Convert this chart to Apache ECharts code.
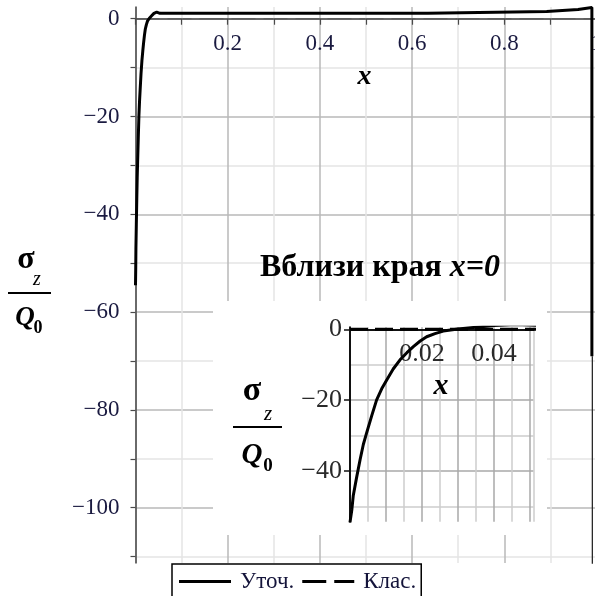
<!DOCTYPE html>
<html>
<head>
<meta charset="utf-8">
<script src="https://cdn.jsdelivr.net/npm/echarts@6/dist/echarts.min.js"></script>
<style>
  html, body { margin: 0; padding: 0; background: #fff; }
  #chart { width: 595px; height: 596px; }
</style>
</head>
<body>
<div id="chart"></div>
<script>
// Refined solution σz/Q0 along x (shared by the full view and the zoom near x = 0)
const refinedX = [0, 0.0005, 0.0009, 0.0018, 0.0028, 0.0037, 0.0046, 0.006, 0.0074, 0.0088,
  0.0102, 0.012, 0.0139, 0.0158, 0.0176, 0.0195, 0.0213, 0.0236, 0.0259, 0.03,
  0.035, 0.04, 0.046, 0.053, 0.2, 0.4, 0.634, 0.634, 0.892, 0.892, 0.96, 0.96, 0.99, 0.99];
const refinedY = [-54.5, -51, -47, -42, -36.8, -32.5, -29.3, -24.5, -19.9, -16.8,
  -14.3, -11.2, -8.6, -6.6, -4.9, -3.3, -2.1, -1.2, -0.5, 0.1,
  0.6, 1.1, 1.35, 1.1, 1.1, 1.1, 1.1, 1.5, 1.5, 1.9, 1.9, 2.3, 2.3, -69];
// Classical solution
const classicX = [0, 1];
const classicY = [0, 0];
// Thin continuation of the drop at the right edge
const edgeX = [0.991, 0.991];
const edgeY = [-69, -112];

// Axis ticks and labels
const mainXLabels = [0.2, 0.4, 0.6, 0.8, 1];
const mainYTicks = [-110, -100, -90, -80, -70, -60, -50, -40, -30, -20, -10, 0];
const mainYLabels = [-100, -80, -60, -40, -20, 0];
const zoomXLabels = [0.02, 0.04];
const zoomYTicks = [-50, -40, -30, -20, -10, 0];
const zoomYLabels = [-40, -20, 0];

const pairs = (xs, ys) => xs.map((x, i) => [x, ys[i]]);
const minusFmt = v => (v === 0 ? '0' : (v < 0 ? '\u2212' : '') + Math.abs(v));
const SERIF = '"Liberation Serif", "Times New Roman", serif';
const near = (v, arr, eps) => arr.some(a => Math.abs(a - v) < eps);

// y range of each panel; the x axis of each panel sits on y = 0
const mainYMin = -111.3, mainYMax = 2.4, mainTop = 7, mainHeight = 556;
const zoomYMin = -54.3, zoomYMax = 0.6, zoomTop = 327.2, zoomHeight = 194.5;
const mainZeroShift = mainHeight * mainYMax / (mainYMax - mainYMin);
const zoomZeroShift = zoomHeight * zoomYMax / (zoomYMax - zoomYMin);

const chart = echarts.init(document.getElementById('chart'), null, { renderer: 'canvas' });

chart.setOption({
  animation: false,
  backgroundColor: '#fff',
  grid: [
    { left: 135.5, top: mainTop, width: 461, height: mainHeight, outerBoundsMode: 'none', containLabel: false },
    { left: 350, top: zoomTop, width: 183.6, height: zoomHeight, outerBoundsMode: 'none', containLabel: false }
  ],
  xAxis: [
    {
      type: 'value', gridIndex: 0, min: 0, max: 1, interval: 0.1, z: 3,
      position: 'top', offset: -mainZeroShift,
      axisLine: { onZero: false, lineStyle: { color: '#4a4a4a', width: 1.5 } },
      axisTick: { show: true, inside: true, length: 6, lineStyle: { color: '#4a4a4a', width: 1.2 } },
      axisLabel: {
        inside: true, margin: 14, fontFamily: SERIF, fontSize: 23, color: '#1a1a40',
        formatter: v => (near(v, mainXLabels, 1e-6) ? String(+v.toFixed(1)) : '')
      },
      splitLine: { show: true, lineStyle: { color: ['#b9b9b9', '#e4e4e4'], width: 1.5 } }
    },
    {
      type: 'value', gridIndex: 1, min: 0, max: 0.051, interval: 0.005, z: 7,
      position: 'top', offset: -zoomZeroShift,
      axisLine: { onZero: false, lineStyle: { color: '#111', width: 2 } },
      axisTick: { show: false },
      axisLabel: {
        inside: true, margin: 12, fontFamily: SERIF, fontSize: 26, color: '#2a2a2a',
        formatter: v => (near(v, zoomXLabels, 1e-7) ? (+v.toFixed(3)).toFixed(2) : '')
      },
      splitLine: { show: true, lineStyle: { color: ['#a8a8a8', '#cdcdcd'], width: 1.5 } }
    }
  ],
  yAxis: [
    {
      type: 'value', gridIndex: 0, min: mainYMin, max: mainYMax, z: 3,
      axisLine: { onZero: false, lineStyle: { color: '#4a4a4a', width: 1.5 } },
      axisTick: { show: true, length: 5, customValues: mainYTicks, lineStyle: { color: '#4a4a4a', width: 1.2 } },
      axisLabel: {
        margin: 16, fontFamily: SERIF, fontSize: 23, color: '#1a1a40',
        customValues: mainYLabels, formatter: minusFmt
      },
      splitLine: { show: true, lineStyle: { color: ['#e4e4e4', '#b9b9b9'], width: 1.5 } }
    },
    {
      type: 'value', gridIndex: 1, min: zoomYMin, max: zoomYMax, z: 7,
      axisLine: { onZero: false, lineStyle: { color: '#111', width: 2 } },
      axisTick: { show: true, length: 6, customValues: zoomYLabels, lineStyle: { color: '#111', width: 1.5 } },
      axisLabel: {
        margin: 8, fontFamily: SERIF, fontSize: 26, color: '#2a2a2a',
        customValues: zoomYLabels, formatter: minusFmt
      },
      splitLine: { show: false }
    },
    {
      // grid lines of the zoom panel every 10 units
      type: 'value', gridIndex: 1, min: zoomYMin, max: zoomYMax, z: 6,
      axisLine: { show: false }, axisLabel: { show: false },
      axisTick: { show: false, customValues: zoomYTicks },
      splitLine: { show: true, lineStyle: { color: ['#cdcdcd', '#a8a8a8'], width: 1.5 } }
    }
  ],
  legend: {
    left: 172, top: 564,
    data: [
      { name: 'Уточ.', icon: 'path://M0,0h52v3h-52z' },
      { name: 'Клас.', icon: 'path://M0,0h24v3h-24zM32,0h20v3h-20z' }
    ],
    itemWidth: 52, itemHeight: 3, itemGap: 8,
    itemStyle: { color: '#000', borderWidth: 0 },
    borderColor: '#000', borderWidth: 1.5, borderRadius: 0,
    padding: [6, 5, 8, 7],
    backgroundColor: '#fff',
    textStyle: { fontFamily: SERIF, fontSize: 23, color: '#14143a', padding: [0, 0, 0, 4] }
  },
  series: [
    {
      name: 'Уточ.', type: 'line', xAxisIndex: 0, yAxisIndex: 0, z: 5,
      symbol: 'none', showSymbol: false,
      lineStyle: { color: '#000', width: 3 }, itemStyle: { color: '#000' },
      data: pairs(refinedX, refinedY)
    },
    {
      name: 'Клас.', type: 'line', xAxisIndex: 0, yAxisIndex: 0, z: 1,
      symbol: 'none', showSymbol: false,
      lineStyle: { color: '#000', width: 1.2, type: [24, 8] }, itemStyle: { color: '#000' },
      data: pairs(classicX, classicY)
    },
    {
      name: 'edge', type: 'line', xAxisIndex: 0, yAxisIndex: 0, z: 4,
      symbol: 'none', silent: true,
      lineStyle: { color: '#2a2a2a', width: 1.3 },
      data: pairs(edgeX, edgeY)
    },
    {
      name: 'Клас.', type: 'line', xAxisIndex: 1, yAxisIndex: 1, z: 8,
      symbol: 'none', showSymbol: false,
      lineStyle: { color: '#000', width: 3, type: [18, 7] }, itemStyle: { color: '#000' },
      data: pairs(classicX, classicY)
    },
    {
      name: 'Уточ.', type: 'line', xAxisIndex: 1, yAxisIndex: 1, z: 9,
      symbol: 'none', showSymbol: false,
      lineStyle: { color: '#000', width: 3 }, itemStyle: { color: '#000' },
      data: pairs(refinedX, refinedY)
    }
  ],
  graphic: [
    // white panel behind the zoom near x = 0
    { type: 'rect', z: 5, shape: { x: 213, y: 301, width: 334, height: 234 }, style: { fill: '#fff' } },

    // title of the zoom panel
    {
      type: 'text', z: 10, left: 260, top: 252,
      style: {
        text: '{a|Вблизи края }{b|x=0}',
        rich: {
          a: { fontFamily: SERIF, fontWeight: 'bold', fontSize: 32, fill: '#000' },
          b: { fontFamily: SERIF, fontWeight: 'bold', fontStyle: 'italic', fontSize: 32, fill: '#000' }
        }
      }
    },

    // axis names "x"
    { type: 'text', z: 10, x: 364.5, y: 77, style: { text: 'x', fontFamily: SERIF, fontWeight: 'bold', fontStyle: 'italic', fontSize: 28, fill: '#000', align: 'center', verticalAlign: 'middle' } },
    { type: 'text', z: 10, x: 441, y: 386, style: { text: 'x', fontFamily: SERIF, fontWeight: 'bold', fontStyle: 'italic', fontSize: 30, fill: '#000', align: 'center', verticalAlign: 'middle' } },

    // σz / Q0 label of the full view
    { type: 'text', z: 10, x: 26, y: 260, style: { text: 'σ', fontFamily: SERIF, fontWeight: 'bold', fontSize: 32, fill: '#000', align: 'center', verticalAlign: 'middle' } },
    { type: 'text', z: 10, x: 37, y: 280, style: { text: 'z', fontFamily: SERIF, fontStyle: 'italic', fontSize: 20, fill: '#000', align: 'center', verticalAlign: 'middle' } },
    { type: 'line', z: 10, shape: { x1: 8, y1: 293, x2: 51, y2: 293 }, style: { stroke: '#000', lineWidth: 2 } },
    { type: 'text', z: 10, x: 25, y: 318, style: { text: 'Q', fontFamily: SERIF, fontWeight: 'bold', fontStyle: 'italic', fontSize: 27, fill: '#000', align: 'center', verticalAlign: 'middle' } },
    { type: 'text', z: 10, x: 38, y: 328, style: { text: '0', fontFamily: SERIF, fontWeight: 'bold', fontSize: 18, fill: '#000', align: 'center', verticalAlign: 'middle' } },

    // σz / Q0 label of the zoom panel
    { type: 'text', z: 10, x: 252, y: 391, style: { text: 'σ', fontFamily: SERIF, fontWeight: 'bold', fontSize: 34, fill: '#000', align: 'center', verticalAlign: 'middle' } },
    { type: 'text', z: 10, x: 268, y: 414, style: { text: 'z', fontFamily: SERIF, fontStyle: 'italic', fontSize: 21, fill: '#000', align: 'center', verticalAlign: 'middle' } },
    { type: 'line', z: 10, shape: { x1: 233, y1: 427, x2: 282, y2: 427 }, style: { stroke: '#000', lineWidth: 2 } },
    { type: 'text', z: 10, x: 252, y: 456, style: { text: 'Q', fontFamily: SERIF, fontWeight: 'bold', fontStyle: 'italic', fontSize: 29, fill: '#000', align: 'center', verticalAlign: 'middle' } },
    { type: 'text', z: 10, x: 268, y: 466, style: { text: '0', fontFamily: SERIF, fontWeight: 'bold', fontSize: 19, fill: '#000', align: 'center', verticalAlign: 'middle' } }
  ]
});
</script>
</body>
</html>
